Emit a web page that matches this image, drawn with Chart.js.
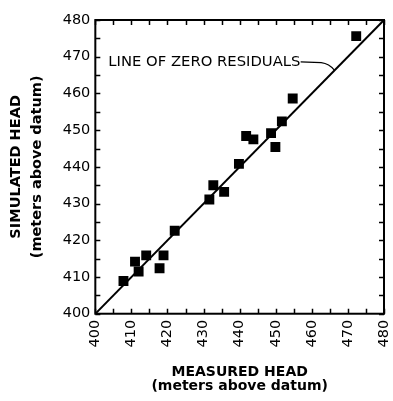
<!DOCTYPE html>
<html>
<head>
<meta charset="utf-8">
<script src="https://cdn.jsdelivr.net/npm/chart.js@4/dist/chart.umd.min.js"></script>
<style>
  html, body { margin: 0; padding: 0; background: #fff; }
  #wrap { width: 393px; height: 401px; position: relative; }
</style>
</head>
<body>
<div id="wrap"><canvas id="chart"></canvas></div>
<script>
// measured vs simulated head (meters above datum)
const measuredHead  = [407.8, 411.0, 412.0, 414.1, 417.8, 418.9, 422.0, 431.6, 432.7, 435.7, 439.8, 441.8, 443.8, 448.7, 449.9, 451.7, 454.7, 472.3];
const simulatedHead = [408.9, 414.2, 411.5, 415.9, 412.4, 415.9, 422.6, 431.1, 435.0, 433.2, 440.8, 448.4, 447.5, 449.2, 445.4, 452.4, 458.6, 475.6];
const zeroLine = [400, 480];
const axisMin = 400, axisMax = 480, tickStep = 5, labelStep = 10;
const calloutText = 'LINE OF ZERO RESIDUALS';
// callout leader: text end, bend, then touches the 1:1 line
const calloutPath = [[456.9, 468.6], [462.6, 468.4], [466.3, 466.3]];
const calloutAnchor = [403.6, 468.6];

const points = measuredHead.map((m, i) => ({ x: m, y: simulatedHead[i] }));
const linePts = zeroLine.map(v => ({ x: v, y: v }));

const FONT = 'DejaVu Sans, Verdana, sans-serif';

const frameTicks = {
  id: 'frameTicks',
  afterDatasetsDraw(chart) {
    const { ctx, chartArea: a, scales: { x, y } } = chart;
    ctx.save();
    ctx.strokeStyle = '#000';
    ctx.lineWidth = 1.5;
    ctx.beginPath();
    x.ticks.forEach(t => {
      const px = Math.round(x.getPixelForValue(t.value)) + 0.5;
      ctx.moveTo(px, a.bottom); ctx.lineTo(px, a.bottom - 5);
      ctx.moveTo(px, a.top); ctx.lineTo(px, a.top + 5);
    });
    y.ticks.forEach(t => {
      const py = Math.round(y.getPixelForValue(t.value)) + 0.5;
      ctx.moveTo(a.left, py); ctx.lineTo(a.left + 5, py);
      ctx.moveTo(a.right, py); ctx.lineTo(a.right - 5, py);
    });
    ctx.stroke();
    ctx.lineWidth = 2;
    ctx.strokeRect(a.left, a.top, a.right - a.left, a.bottom - a.top);

    // callout
    ctx.lineWidth = 1.2;
    ctx.beginPath();
    const p = calloutPath.map(([vx, vy]) => [x.getPixelForValue(vx), y.getPixelForValue(vy)]);
    ctx.moveTo(p[0][0], p[0][1]);
    ctx.lineTo(p[1][0], p[1][1]);
    ctx.quadraticCurveTo(p[1][0] + 8, p[1][1] + 1, p[2][0], p[2][1]);
    ctx.stroke();
    ctx.fillStyle = '#000';
    ctx.font = '14.8px ' + FONT;
    ctx.textBaseline = 'middle';
    ctx.textAlign = 'left';
    ctx.fillText(calloutText, x.getPixelForValue(calloutAnchor[0]), y.getPixelForValue(calloutAnchor[1]));
    ctx.restore();
  }
};

const tickLabel = v => (v % labelStep === 0 ? String(v) : '');

new Chart(document.getElementById('chart'), {
  type: 'scatter',
  data: {
    datasets: [
      {
        data: points,
        pointStyle: 'rect',
        pointRadius: 7,
        pointHoverRadius: 7,
        pointBackgroundColor: '#000',
        pointBorderWidth: 0,
        order: 0
      },
      {
        data: linePts,
        showLine: true,
        borderColor: '#000',
        borderWidth: 2,
        pointRadius: 0,
        order: 1
      }
    ]
  },
  options: {
    responsive: true,
    maintainAspectRatio: false,
    animation: false,
    events: [],
    layout: { padding: { left: 6, right: 9, top: 20, bottom: 8 } },
    plugins: { legend: { display: false }, tooltip: { enabled: false } },
    scales: {
      x: {
        type: 'linear', min: axisMin, max: axisMax,
        grid: { display: false, drawTicks: false },
        border: { display: false },
        afterFit(s) { s.paddingLeft = 0; s.paddingRight = 0; },
        ticks: {
          stepSize: tickStep, autoSkip: false, minRotation: 90, maxRotation: 90,
          padding: 6, color: '#000', font: { family: FONT, size: 14.5 },
          callback: tickLabel
        },
        title: {
          display: true, text: ['MEASURED HEAD', '(meters above datum)'], color: '#000',
          font: { family: FONT, size: 14, weight: 'bold', lineHeight: 1.0 },
          padding: { top: 11.6, bottom: 0 }
        }
      },
      y: {
        type: 'linear', min: axisMin, max: axisMax,
        grid: { display: false, drawTicks: false },
        border: { display: false },
        afterFit(s) { s.paddingTop = 0; s.paddingBottom = 0; },
        ticks: {
          stepSize: tickStep, autoSkip: false,
          padding: 5, color: '#000', font: { family: FONT, size: 14.5 },
          callback: tickLabel
        },
        title: {
          display: true, text: ['SIMULATED HEAD', '(meters above datum)'], color: '#000',
          font: { family: FONT, size: 14.5, weight: 'bold', lineHeight: 1.45 },
          padding: { top: 0, bottom: 9.6 }
        }
      }
    }
  },
  plugins: [frameTicks]
});
</script>
</body>
</html>
